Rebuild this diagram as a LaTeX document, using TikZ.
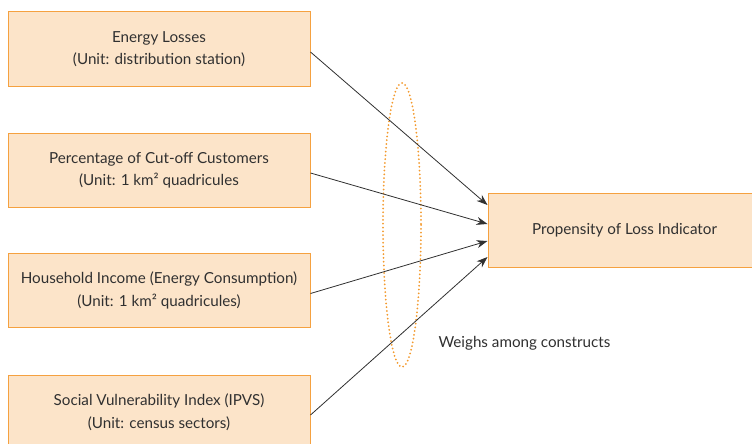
\documentclass[tikz,border=0pt]{standalone}
\usepackage{fontspec}
\setmainfont{Lato}
\usetikzlibrary{arrows.meta}
\definecolor{boxfill}{HTML}{FCE4C9}
\definecolor{boxline}{HTML}{F5A140}
\definecolor{txtgray}{HTML}{303030}
\definecolor{ringorange}{HTML}{F39A2E}
\tikzstyle{construct}=[rectangle, draw=boxline, fill=boxfill, line width=1pt,
                       minimum width=302pt, minimum height=74pt, inner sep=0pt,
                       align=center, text=txtgray, font=\fontsize{15.2}{22.5}\selectfont]
\tikzstyle{indicator}=[construct, minimum width=273pt]
\tikzstyle{weight-edge} = [draw, line width=0.8pt, color=txtgray,
                           -{Stealth[length=11pt,width=8pt]}]
\tikzstyle{weight-ring} = [draw=ringorange, line width=2pt, line cap=round,
                           dash pattern=on 0pt off 3.8pt]

\begin{document}
\begin{tikzpicture}[x=1pt, y=-1pt]
    \useasboundingbox (0,0) rectangle (752,444);
    \clip (0,0) rectangle (752,444);
    % First we draw the constructs
    \foreach \pos/\name/\txt in {{(159,49)/losses/{Energy Losses\\(Unit: distribution station)}},
        {(159,170)/cutoff/{Percentage of Cut-off Customers\\(Unit: 1 km² quadricules}},
        {(159,290.5)/income/{Household Income (Energy Consumption)\\(Unit: 1 km² quadricules)}},
        {(159,412)/ipvs/{Social Vulnerability Index (IPVS)\\(Unit: census sectors)}}}
      \node[construct] (\name) at \pos {\txt};
    \node[indicator] (loss) at (624.5,230) {Propensity of Loss Indicator};
    % Then the weights between constructs and indicator
    \draw[weight-ring] (402,225) ellipse (19 and 142);
    \node[text=txtgray, font=\fontsize{15.2}{22.5}\selectfont, anchor=west] (weighs)
      at (435,343) {Weighs among constructs};
    \foreach \source/\dy in {losses/25, cutoff/6, income/-11, ipvs/-27}
      \path[weight-edge] ([yshift=-3pt]\source.east) -- ([yshift=\dy pt]loss.west);
\end{tikzpicture}
\end{document}
